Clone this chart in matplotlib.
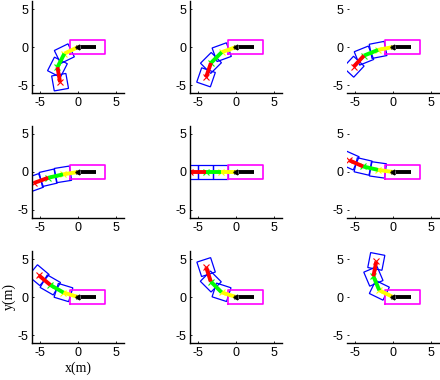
import numpy as np
import matplotlib
matplotlib.use("Agg")
import matplotlib.pyplot as plt
from matplotlib.patches import Polygon

plt.rcParams['axes.unicode_minus'] = False
plt.rcParams['font.family'] = ['Liberation Sans', 'DejaVu Sans']

# Trailer headings (deg) for the three trailing units in each of the 9 panels
headings = [
    [206, 243, 280],
    [200, 225, 251],
    [191, 202, 227],
    [189, 193, 200],
    [180, 180, 180],
    [172, 167, 156],
    [163, 150, 140],
    [162, 135, 108],
    [154, 113, 79],
]
seg_len = 2.0          # joint spacing
trailer_len = 2.0
trailer_wid = 1.9
truck_x = [-1.0, 3.6]
truck_y = [-0.87, 0.87]
arrow_len = 2.35
seg_colors = ['#FFFF00', '#00FF00', '#FF0000']
ticks = [-5, 0, 5]
xlim = [-6, 6]
ylim = [-6, 6]

W, H = 440, 380
fig = plt.figure(figsize=(W / 100, H / 100), dpi=100)

col_x0 = [78, 236, 393]
row_y0 = [47, 172, 297]
ppu = 7.6
half = 6 * ppu

for k, hd in enumerate(headings):
    r, c = divmod(k, 3)
    left = (col_x0[c] - half) / W
    bottom = 1 - (row_y0[r] + half) / H
    ax = fig.add_axes([left, bottom, 2 * half / W, 2 * half / H])
    ax.set_xlim(xlim)
    ax.set_ylim(ylim)
    ax.set_xticks(ticks)
    ax.set_yticks(ticks)
    ax.tick_params(direction='in', length=1.5, width=0.6, labelsize=9, pad=3,
                   colors='black')
    ax.spines['top'].set_visible(False)
    ax.spines['right'].set_visible(False)
    ax.spines['bottom'].set_linewidth(1.0)
    ax.spines['left'].set_linewidth(1.0)
    if c == 2:
        ax.spines['left'].set_visible(False)

    # truck (magenta)
    ax.plot([truck_x[0], truck_x[1], truck_x[1], truck_x[0], truck_x[0]],
            [truck_y[0], truck_y[0], truck_y[1], truck_y[1], truck_y[0]],
            color='#FF00FF', lw=1.2)

    # joints
    pts = [np.array([0.0, 0.0])]
    for a in hd:
        t = np.deg2rad(a)
        pts.append(pts[-1] + seg_len * np.array([np.cos(t), np.sin(t)]))

    # trailers (blue rotated rectangles centered at joint ends)
    for i, a in enumerate(hd):
        t = np.deg2rad(a)
        u = np.array([np.cos(t), np.sin(t)])
        n = np.array([-np.sin(t), np.cos(t)])
        cc = pts[i + 1]
        corners = [cc + u * trailer_len / 2 + n * trailer_wid / 2,
                   cc - u * trailer_len / 2 + n * trailer_wid / 2,
                   cc - u * trailer_len / 2 - n * trailer_wid / 2,
                   cc + u * trailer_len / 2 - n * trailer_wid / 2]
        ax.add_patch(Polygon(corners, closed=True, fill=False,
                             edgecolor='#0000FF', lw=0.9))

    # path segments
    for i in range(3):
        p, q = pts[i], pts[i + 1]
        ax.plot([p[0], q[0]], [p[1], q[1]], color=seg_colors[i], lw=2.8,
                solid_capstyle='butt')
        ax.plot([q[0]], [q[1]], 'x', color=seg_colors[i], ms=4, mew=0.8)
        mid = p + 0.5 * (q - p)
        ax.plot([mid[0]], [mid[1]], '.', color=seg_colors[i], ms=2)

    # heading arrow (black)
    ax.plot([0.35, arrow_len], [0, 0], color='black', lw=2.8,
            solid_capstyle='butt')
    ax.plot([0.0], [0.0], marker=(3, 0, 90), color='black', ms=4)
    ax.plot([0.0], [0.0], 'x', color='black', ms=3, mew=0.6)

    if r == 2 and c == 0:
        ax.set_xlabel('x(m)', family=['Liberation Serif'], fontsize=10,
                      labelpad=2)
        ax.set_ylabel('y(m)', family=['Liberation Serif'], fontsize=10,
                      labelpad=1)

fig.savefig('out.png', dpi=100)
